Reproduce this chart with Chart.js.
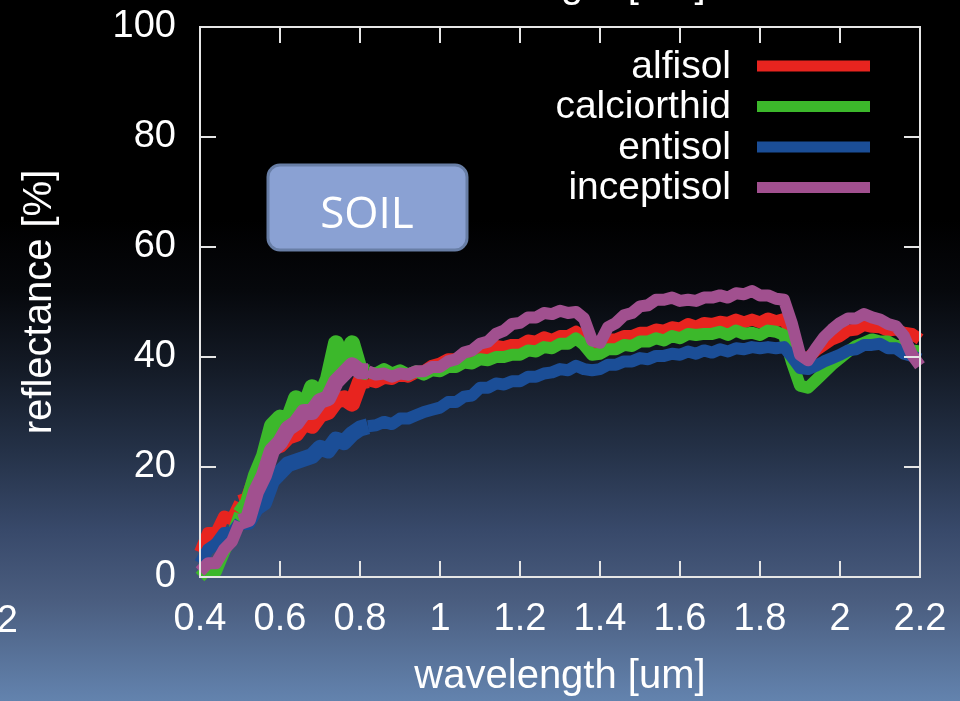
<!DOCTYPE html>
<html>
<head>
<meta charset="utf-8">
<script src="https://cdn.jsdelivr.net/npm/chart.js@4.4.1/dist/chart.umd.min.js"></script>
<style>
  html, body { margin: 0; padding: 0; width: 960px; height: 701px; overflow: hidden; }
  body {
    background: linear-gradient(to bottom, #000000 0px, #000000 220px, #06080c 290px, #141b27 370px,
      #243147 450px, #38496a 530px, #4a5d7f 600px, #6383ae 701px);
  }
  #wrap { position: relative; width: 960px; height: 701px; }
</style>
</head>
<body>
<div id="wrap"><canvas id="soilChart" width="960" height="701"></canvas></div>
<script>
// --- Data ---
const wavelengths = [0.40,0.42,0.44,0.46,0.48,0.50,0.52,0.54,0.56,0.58,0.60,0.62,0.64,0.66,0.68,0.70,0.72,0.74,0.76,0.78,
  0.80,0.82,0.84,0.86,0.88,0.90,0.92,0.94,0.96,0.98,1.00,1.02,1.04,1.06,1.08,1.10,1.12,1.14,1.16,1.18,
  1.20,1.22,1.24,1.26,1.28,1.30,1.32,1.34,1.36,1.38,1.40,1.42,1.44,1.46,1.48,1.50,1.52,1.54,1.56,1.58,
  1.60,1.62,1.64,1.66,1.68,1.70,1.72,1.74,1.76,1.78,1.80,1.82,1.84,1.86,1.88,1.90,1.92,1.94,1.96,1.98,
  2.00,2.02,2.04,2.06,2.08,2.10,2.12,2.14,2.16,2.18,2.20];

const alfisol = [4.5,8,8,11,10.5,13.5,14,18,20.5,23.5,24,25.5,26,28,27.5,29.5,30,32,32.5,31.5,
  35.5,35.8,35.4,36.2,36,36.8,36.4,37.2,37.4,38.4,38.8,39.6,39.6,40.6,40.6,41.4,41,42,41.8,42.2,
  42.2,43,42.8,43.6,43.1,43.8,43.8,44.6,43.6,41.6,41.8,43.2,43.2,43.8,43.8,44.4,44.4,45,44.8,45.4,
  45.2,46,45.5,46.2,46,46.4,46.2,46.8,46.3,46.8,46.3,47,46.5,46.9,44,39.6,39.8,41.2,42.2,43.2,
  43.8,44.8,45,45.8,45.5,45.4,44.8,45,44.4,44.2,43.2];

const calciorthid = [0,1.5,1,4.5,7.5,11.5,13.5,18.5,22,27.5,29,28.5,32.5,30.5,34.5,32.5,36,42.5,38,42.5,
  37.5,37.2,37,37.8,37,37.6,36.8,37.4,36.8,37.6,37.4,38.2,38.2,39,38.8,39.6,39.4,40,40,40.4,
  40.4,41.2,41,41.8,41.6,42.4,42.4,43.4,42.2,40.4,40.6,41.4,41.4,42.2,42,42.8,42.8,43.4,43,43.8,
  43.4,44.2,44,44.2,44.2,44.6,44,44.8,44.2,44.4,44,44.8,44.6,44,39,34.8,34.4,35.8,37.2,38.6,
  39.8,41,42,42.6,43.2,42.8,42.8,42,42,41.2,41];

const entisol = [2.5,5,6,8,8,10,10,12.5,13.5,17.5,19,20.5,21,21.5,22,23.5,23,25,24.5,26,
  27,27.4,27.6,28.2,27.8,28.8,28.8,29.4,30,30.4,30.8,31.8,31.8,32.8,33,34.4,34.4,35.2,35,35.6,
  35.6,36.4,36.4,37,37.2,37.8,37.6,38.4,37.8,37.6,37.8,38.6,38.6,39.2,39.2,39.8,39.6,40.2,40.2,40.6,
  40.4,41,40.6,41.2,40.8,41.4,41,41.6,41.4,41.8,41.6,41.8,41.6,41.8,40,38,37.8,38.4,39.2,39.8,
  40.4,41.2,41.4,42.2,42.2,42.4,41.6,41.6,40.6,40.2,39.6];

const inceptisol = [1,2.5,2.5,5,6.5,10,10.5,15.5,18.5,23,24.5,27,28,30,30,32,32.5,35.5,37,38.5,
  37.4,37.4,36.8,37,36.4,37,36.8,37.4,37.4,38.2,38.2,39.2,39.6,40.8,41.2,42.4,42.8,44.2,44.8,46,
  46.2,47.2,47.2,48,47.8,48.4,48,48.2,47,43,42.6,45.4,46.2,47.6,48,49.2,49.4,50.4,50.4,50.8,
  50.2,50.4,50.2,50.8,50.8,51.2,50.8,51.6,51.4,52,51.2,51.2,50.6,50.4,46,40.4,39.4,41.6,43.6,45,
  46.2,47,47,47.8,47.2,46.8,46,45.6,43.8,40.4,38.4];

const seriesNames = ['alfisol', 'calciorthid', 'entisol', 'inceptisol'];
const seriesColors = ['#e8241f', '#3cb82b', '#1b4e97', '#a1508f'];
const seriesValues = [alfisol, calciorthid, entisol, inceptisol];

const xTickValues = [0.4, 0.6, 0.8, 1.0, 1.2, 1.4, 1.6, 1.8, 2.0, 2.2];
const xTickLabels = ['0.4', '0.6', '0.8', '1', '1.2', '1.4', '1.6', '1.8', '2', '2.2'];
const yTickValues = [0, 20, 40, 60, 80, 100];
const yTickLabels = ['0', '20', '40', '60', '80', '100'];

const FONT = "'Liberation Sans', Arial, sans-serif";

// the visible-range spectra are noisier, so the band is drawn wider there
const bandWidth = seg => (seg.p0.parsed.x >= 0.5 && seg.p1.parsed.x <= 0.82) ? 16 : 12;

// --- Frame, ticks, legend and label box ---
const decorations = {
  id: 'decorations',
  afterDraw(chart) {
    const { ctx, chartArea: a, scales } = chart;
    ctx.save();

    // frame + inward ticks on all four sides
    ctx.strokeStyle = '#e6e6e6';
    ctx.lineWidth = 2;
    ctx.strokeRect(a.left, a.top, a.right - a.left, a.bottom - a.top);
    ctx.beginPath();
    xTickValues.forEach(v => {
      const px = Math.round(scales.x.getPixelForValue(v));
      ctx.moveTo(px, a.bottom); ctx.lineTo(px, a.bottom - 16);
      ctx.moveTo(px, a.top); ctx.lineTo(px, a.top + 16);
    });
    yTickValues.forEach(v => {
      const py = Math.round(scales.y.getPixelForValue(v));
      ctx.moveTo(a.left, py); ctx.lineTo(a.left + 16, py);
      ctx.moveTo(a.right, py); ctx.lineTo(a.right - 16, py);
    });
    ctx.stroke();

    // legend: text right-aligned, line sample to the right
    ctx.font = '39px ' + FONT;
    ctx.fillStyle = '#ffffff';
    ctx.textAlign = 'right';
    ctx.textBaseline = 'middle';
    seriesNames.forEach((name, i) => {
      const y = 66 + i * 40.5;
      ctx.fillText(name, 731, y + 1);
      ctx.fillStyle = seriesColors[i];
      ctx.fillRect(757, y - 5.5, 113, 11);
      ctx.fillStyle = '#ffffff';
    });

    // SOIL box
    ctx.beginPath();
    ctx.roundRect(268, 165, 199, 85, 12);
    ctx.fillStyle = '#8aa1d3';
    ctx.fill();
    ctx.lineWidth = 3;
    ctx.strokeStyle = '#687ea6';
    ctx.stroke();
    ctx.fillStyle = '#ffffff';
    ctx.font = "44px 'Open Sans', sans-serif";
    ctx.textAlign = 'center';
    ctx.textBaseline = 'alphabetic';
    ctx.fillText('SOIL', 367, 228);

    // cropped remains of the neighbouring slide content
    ctx.font = '40px ' + FONT;
    ctx.fillText('wavelength [um]', 560, -3);
    ctx.font = '38px ' + FONT;
    ctx.textAlign = 'right';
    ctx.fillText('2.2', 18, 632);

    ctx.restore();
  }
};

const ctx = document.getElementById('soilChart').getContext('2d');
const soilChart = new Chart(ctx, {
  type: 'line',
  data: {
    datasets: seriesNames.map((name, i) => ({
      label: name,
      data: wavelengths.map((w, j) => ({ x: w, y: seriesValues[i][j] })),
      borderColor: seriesColors[i],
      backgroundColor: seriesColors[i],
      borderWidth: 12,
      segment: { borderWidth: bandWidth },
      borderJoinStyle: 'round',
      pointRadius: 0,
      tension: 0,
      clip: 12,
      order: seriesNames.length - 1 - i
    }))
  },
  options: {
    responsive: false,
    animation: false,
    layout: { padding: { left: 0, right: 40, top: 27, bottom: 0 } },
    plugins: { legend: { display: false }, tooltip: { enabled: false } },
    scales: {
      x: {
        type: 'linear',
        min: 0.4, max: 2.2,
        afterBuildTicks: s => { s.ticks = xTickValues.map(v => ({ value: v })); },
        afterFit: s => { s.height = 124; s.paddingLeft = 0; s.paddingRight = 0; },
        grid: { display: false, drawTicks: false },
        border: { display: false },
        ticks: {
          color: '#ffffff', padding: 20, maxRotation: 0, autoSkip: false,
          font: { family: FONT, size: 38 },
          callback: (v, i) => xTickLabels[i]
        },
        title: {
          display: true, text: 'wavelength [um]', color: '#ffffff',
          font: { family: FONT, size: 40 }, padding: { top: 0, bottom: 0 }
        }
      },
      y: {
        min: 0, max: 100,
        afterBuildTicks: s => { s.ticks = yTickValues.map(v => ({ value: v })); },
        afterFit: s => { s.width = 200; s.paddingTop = 0; s.paddingBottom = 0; },
        grid: { display: false, drawTicks: false },
        border: { display: false },
        ticks: {
          color: '#ffffff', padding: 24,
          font: { family: FONT, size: 38 },
          callback: (v, i) => yTickLabels[i]
        },
        title: {
          display: true, text: 'reflectance [%]', color: '#ffffff',
          font: { family: FONT, size: 40 }, padding: { top: 16, bottom: 0 }
        }
      }
    }
  },
  plugins: [decorations]
});
</script>
</body>
</html>
